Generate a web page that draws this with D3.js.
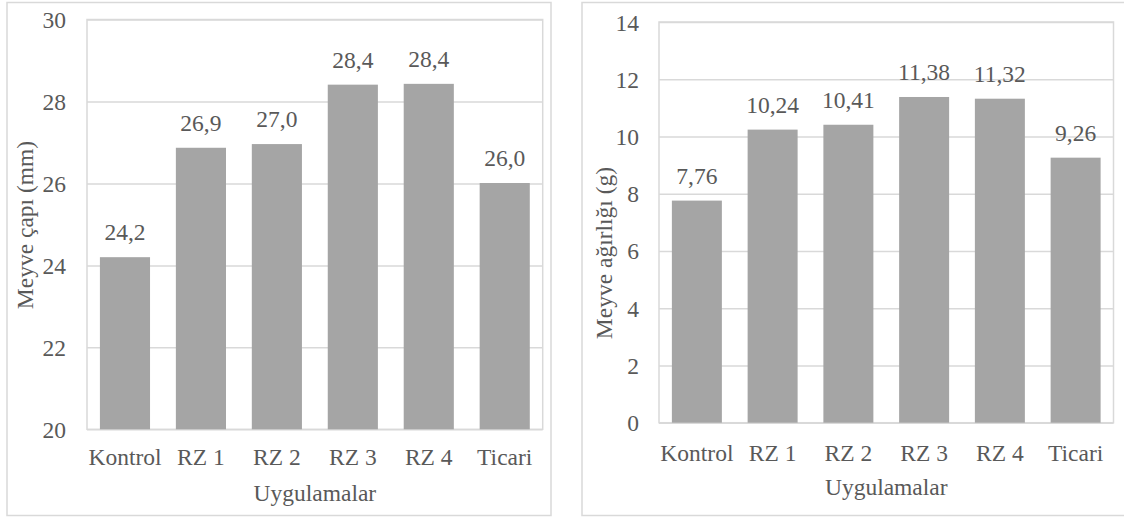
<!DOCTYPE html>
<html>
<head>
<meta charset="utf-8">
<script src="https://cdn.jsdelivr.net/npm/d3@7/dist/d3.min.js"></script>
<style>
  html, body { margin: 0; padding: 0; background: #fff; }
  svg { display: block; }
  #chart text { font-family: "Liberation Serif", "Times New Roman", Tinos, serif !important; }
</style>
</head>
<body>
<svg id="chart" width="1124" height="520" style="font-family: 'Liberation Serif', 'Times New Roman', serif"></svg>
<script>
// ---- Data ----
const categories = ["Kontrol", "RZ 1", "RZ 2", "RZ 3", "RZ 4", "Ticari"];

const diameterValues = [24.2, 26.87, 26.96, 28.41, 28.43, 26.01];
const diameterLabels = ["24,2", "26,9", "27,0", "28,4", "28,4", "26,0"];
const diameterTicks = [20, 22, 24, 26, 28, 30];

const weightValues = [7.76, 10.24, 10.41, 11.38, 11.32, 9.26];
const weightLabels = ["7,76", "10,24", "10,41", "11,38", "11,32", "9,26"];
const weightTicks = [0, 2, 4, 6, 8, 10, 12, 14];

const xTitle = "Uygulamalar";
const diameterTitle = "Meyve çapı (mm)";
const weightTitle = "Meyve ağırlığı (g)";

// ---- Drawing ----
const svg = d3.select("#chart");
const FONT = "'Liberation Serif', 'Times New Roman', serif";
const FS = 23.5;
const TXT = "#595959";
const GRID = "#D9D9D9";
const BAR = "#A5A5A5";

function styleText(sel) {
  return sel.style("font-family", FONT).style("font-size", FS + "px").attr("fill", TXT);
}

function drawPanel(o) {
  const g = svg.append("g");
  // outer chart border
  g.append("rect")
    .attr("x", o.box[0]).attr("y", o.box[1])
    .attr("width", o.box[2] - o.box[0]).attr("height", o.box[3] - o.box[1])
    .attr("fill", "#fff").attr("stroke", GRID).attr("stroke-width", 1.5);

  const x = d3.scaleBand().domain(o.categories)
    .range([o.plot[0], o.plot[2]]).paddingInner(0.34).paddingOuter(0.17);
  const y = d3.scaleLinear().domain(o.domain).range([o.plot[3], o.plot[1]]);

  // gridlines
  const grid = g.append("g")
    .attr("transform", `translate(${o.plot[0]},0)`)
    .call(d3.axisLeft(y).tickValues(o.ticks).tickSize(-(o.plot[2] - o.plot[0])).tickFormat(""));
  grid.select(".domain").remove();
  grid.selectAll(".tick line").attr("stroke", GRID).attr("stroke-width", 1.5);
  grid.selectAll(".tick text").remove();

  // plot area border
  g.append("rect")
    .attr("x", o.plot[0]).attr("y", o.plot[1])
    .attr("width", o.plot[2] - o.plot[0]).attr("height", o.plot[3] - o.plot[1])
    .attr("fill", "none").attr("stroke", GRID).attr("stroke-width", 1.5);

  // bars
  g.selectAll(".bar").data(o.values).join("rect")
    .attr("class", "bar")
    .attr("x", (d, i) => x(o.categories[i]))
    .attr("y", d => y(d))
    .attr("width", x.bandwidth())
    .attr("height", d => y(o.domain[0]) - y(d))
    .attr("fill", BAR);

  // data labels
  g.selectAll(".lbl").data(o.values).join("text")
    .attr("class", "lbl")
    .attr("x", (d, i) => x(o.categories[i]) + x.bandwidth() / 2)
    .attr("y", d => y(d) - 17)
    .attr("text-anchor", "middle")
    .call(styleText)
    .text((d, i) => o.labels[i]);

  // y tick labels
  const yAx = g.append("g")
    .attr("transform", `translate(${o.tickRight},0)`)
    .call(d3.axisLeft(y).tickValues(o.ticks).tickSize(0).tickPadding(0));
  yAx.attr("font-family", null).attr("font-size", null);
  yAx.select(".domain").remove();
  yAx.selectAll(".tick text").call(styleText).attr("dy", 8).attr("x", 0);

  // x category labels
  const xAx = g.append("g")
    .attr("transform", `translate(0,${o.catBase})`)
    .call(d3.axisBottom(x).tickSize(0).tickPadding(0));
  xAx.attr("font-family", null).attr("font-size", null);
  xAx.select(".domain").remove();
  xAx.selectAll(".tick text").call(styleText).attr("dy", 0).attr("y", 0);

  // axis titles
  g.append("text")
    .attr("x", (o.plot[0] + o.plot[2]) / 2).attr("y", o.xTitleBase)
    .attr("text-anchor", "middle").call(styleText)
    .text(o.xTitle);
  g.append("text")
    .attr("transform", `translate(${o.yTitleBase},${o.yTitleCenter}) rotate(-90)`)
    .attr("text-anchor", "middle").call(styleText)
    .text(o.yTitle);
}

drawPanel({
  box: [7, 2.5, 551, 515.5],
  plot: [87, 19.5, 542.7, 429.3],
  categories, values: diameterValues, labels: diameterLabels,
  domain: [20, 30], ticks: diameterTicks,
  tickRight: 66, catBase: 465, xTitleBase: 501,
  yTitleBase: 33, yTitleCenter: 225,
  xTitle, yTitle: diameterTitle
});

drawPanel({
  box: [582, 2.5, 1130, 515.5],
  plot: [659, 22, 1113.5, 422.7],
  categories, values: weightValues, labels: weightLabels,
  domain: [0, 14], ticks: weightTicks,
  tickRight: 639, catBase: 461, xTitleBase: 495,
  yTitleBase: 612, yTitleCenter: 253,
  xTitle, yTitle: weightTitle
});
</script>
</body>
</html>
